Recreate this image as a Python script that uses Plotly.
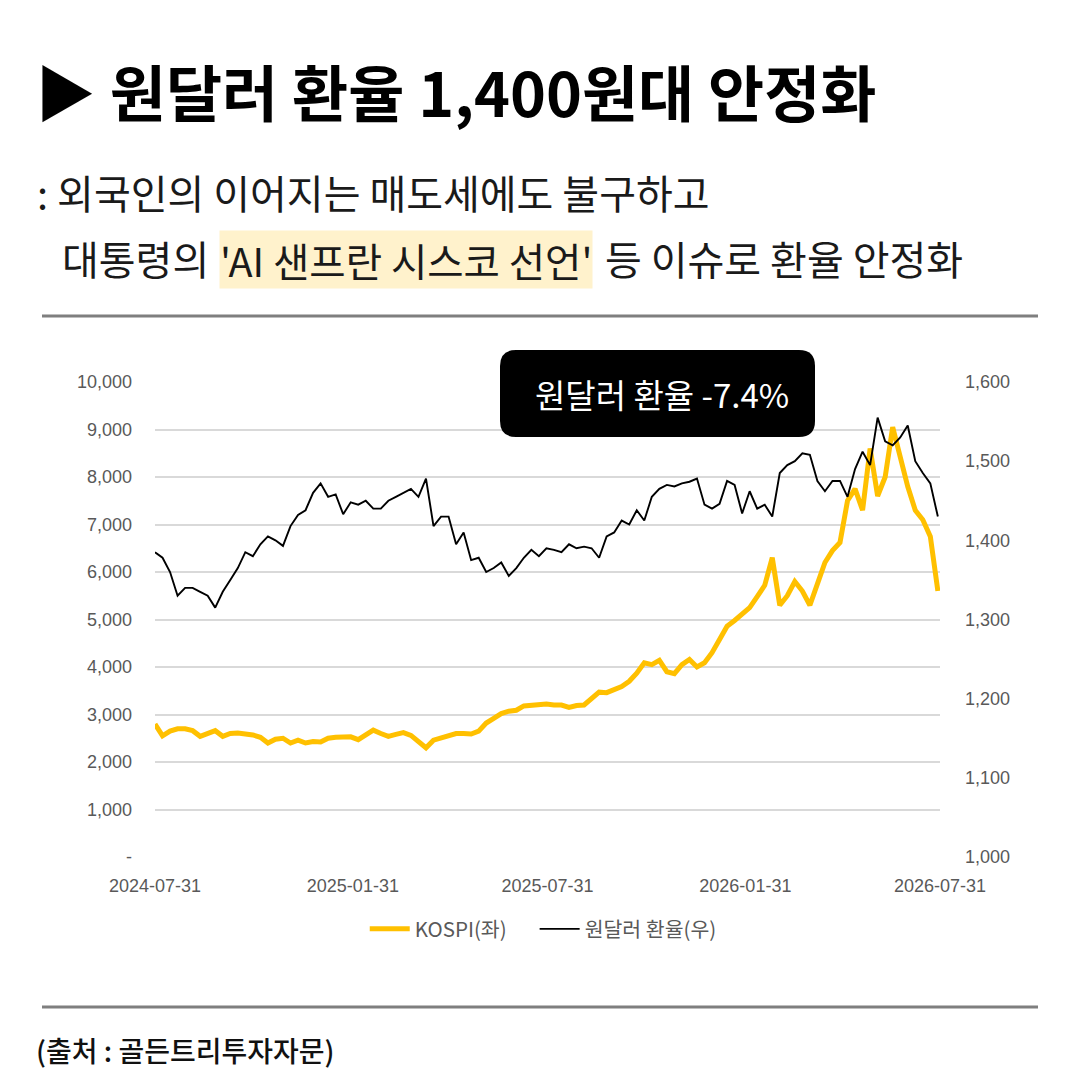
import pandas as pd
import plotly.graph_objects as go

# Dades (llegides del gràfic original, setmanals)
dates = pd.date_range("2024-07-31", periods=105, freq="7D")

kospi = [2800, 2550, 2650, 2700, 2700, 2660, 2540, 2600, 2660, 2540,
         2600, 2610, 2590, 2570, 2520, 2400, 2480, 2500, 2400, 2460,
         2400, 2430, 2420, 2500, 2520, 2530, 2530, 2470, 2560, 2670,
         2600, 2540, 2580, 2620, 2560, 2440, 2300, 2460, 2500, 2560,
         2600, 2600, 2590, 2650, 2820, 2920, 3020, 3070, 3090, 3180,
         3200, 3200, 3220, 3200, 3200, 3150, 3190, 3200, 3350, 3470,
         3460, 3520, 3590, 3700, 3870, 4090, 4050, 4140, 3900, 3860,
         4050, 4160, 4000, 4090, 4300, 4580, 4860, 4980, 5100, 5250,
         5480, 5720, 6300, 5300, 5500, 5800, 5600, 5300, 5750, 6200,
         6450, 6620, 7500, 7750, 7300, 8600, 7600, 8000, 9050, 8400,
         7800, 7300, 7100, 6750, 5600]

usdkrw = [1385, 1378, 1360, 1330, 1340, 1340, 1335, 1330, 1315, 1335,
          1350, 1365, 1385, 1380, 1395, 1405, 1400, 1393, 1418, 1432,
          1438, 1460, 1472, 1455, 1458, 1433, 1448, 1445, 1450, 1440,
          1440, 1450, 1455, 1460, 1465, 1455, 1478, 1418, 1430, 1430,
          1395, 1410, 1375, 1378, 1360, 1365, 1372, 1355, 1365, 1378,
          1388, 1380, 1390, 1388, 1385, 1395, 1390, 1392, 1390, 1378,
          1405, 1410, 1425, 1420, 1438, 1425, 1455, 1465, 1470, 1468,
          1472, 1474, 1478, 1445, 1440, 1446, 1475, 1470, 1434, 1462,
          1440, 1445, 1430, 1485, 1495, 1500, 1510, 1508, 1475, 1462,
          1475, 1475, 1455, 1490, 1512, 1495, 1555, 1525, 1520, 1530,
          1545, 1500, 1485, 1472, 1430]

x_ticks = ["2024-07-31", "2025-01-31", "2025-07-31", "2026-01-31", "2026-07-31"]
left_ticks = list(range(0, 10001, 1000))
left_labels = ["-"] + [f"{v:,}" for v in left_ticks[1:]]
right_ticks = list(range(1000, 1601, 100))
right_labels = [f"{v:,}" for v in right_ticks]

W = 1080
def px(v):
    return v / W
def py(v):
    return 1 - v / W

KR = "Noto Sans CJK KR"
AX = "Liberation Sans, Arial, sans-serif"
GRAY = "#595959"
TXT = "#1a1a1a"
NB = "\u00a0"

fig = go.Figure()

fig.add_trace(go.Scatter(
    x=dates, y=kospi, mode="lines", name="KOSPI(좌)" + NB * 5,
    line=dict(color="#FFC000", width=5), yaxis="y"
))
fig.add_trace(go.Scatter(
    x=dates, y=usdkrw, mode="lines", name="원달러 환율(우)",
    line=dict(color="#000000", width=1.9), yaxis="y2"
))

fig.update_layout(
    width=W, height=W,
    margin=dict(l=0, r=0, t=0, b=0, autoexpand=False),
    paper_bgcolor="white", plot_bgcolor="white",
    font=dict(family=KR, color=GRAY),
    xaxis=dict(
        type="date", domain=[px(155), px(940)], automargin=False,
        range=["2024-07-31", "2026-07-31"],
        tickvals=x_ticks, ticktext=x_ticks,
        tickfont=dict(family=AX, size=18, color=GRAY),
        showgrid=False, showline=False, zeroline=False,
        ticklabelstandoff=16
    ),
    yaxis=dict(
        domain=[py(857), py(382)], range=[0, 10000], automargin=False,
        tickvals=left_ticks, ticktext=left_labels,
        tickfont=dict(family=AX, size=18, color=GRAY),
        gridcolor="#d9d9d9", gridwidth=1.5, zeroline=False,
        ticklabelstandoff=22
    ),
    yaxis2=dict(
        overlaying="y", side="right", range=[1000, 1600], automargin=False,
        tickvals=right_ticks, ticktext=right_labels,
        tickfont=dict(family=AX, size=18, color=GRAY),
        showgrid=False, zeroline=False,
        ticklabelstandoff=24
    ),
    legend=dict(
        orientation="h", x=0.503, xanchor="center", y=py(929), yanchor="middle",
        font=dict(family=KR, size=20.5, color=GRAY), itemwidth=40
    ),
)

# Títol i subtítol
fig.add_annotation(
    x=px(33), y=py(90), xref="paper", yref="paper", xanchor="left", yanchor="middle",
    text="<b>▶ 원달러 환율 1,400원대 안정화</b>", showarrow=False,
    font=dict(family=KR, size=61, color="#000000")
)
fig.add_annotation(
    x=px(35), y=py(192), xref="paper", yref="paper", xanchor="left", yanchor="middle",
    text=": 외국인의 이어지는 매도세에도 불구하고", showarrow=False,
    font=dict(family=KR, size=40, color=TXT)
)
fig.add_annotation(
    x=px(60), y=py(258), xref="paper", yref="paper", xanchor="left", yanchor="middle",
    text="대통령의", showarrow=False,
    font=dict(family=KR, size=40, color=TXT)
)
fig.add_annotation(
    x=px(219), y=py(259), xref="paper", yref="paper", xanchor="left", yanchor="middle",
    text="'AI 샌프란 시스코 선언'", showarrow=False, bgcolor="#FFF2CC", borderpad=0,
    font=dict(family=KR, size=39.5, color=TXT)
)
fig.add_annotation(
    x=px(603), y=py(258), xref="paper", yref="paper", xanchor="left", yanchor="middle",
    text="등 이슈로 환율 안정화", showarrow=False,
    font=dict(family=KR, size=40, color=TXT)
)

# Línies separadores
for yy in (316, 1007):
    fig.add_shape(type="line", xref="paper", yref="paper",
                  x0=px(42), x1=px(1038), y0=py(yy), y1=py(yy),
                  line=dict(color="#7f7f7f", width=3))

# Caixa negra arrodonida
x0, x1, y0, y1, r = px(500), px(815), py(437), py(350), px(16)
path = (f"M {x0+r},{y0} L {x1-r},{y0} Q {x1},{y0} {x1},{y0+r} "
        f"L {x1},{y1-r} Q {x1},{y1} {x1-r},{y1} L {x0+r},{y1} "
        f"Q {x0},{y1} {x0},{y1-r} L {x0},{y0+r} Q {x0},{y0} {x0+r},{y0} Z")
fig.add_shape(type="path", path=path, xref="paper", yref="paper",
              fillcolor="#000000", line=dict(width=0))
fig.add_annotation(
    x=px(662), y=py(394), xref="paper", yref="paper", xanchor="center", yanchor="middle",
    text="원달러 환율 -7.4%", showarrow=False,
    font=dict(family=KR, size=33, color="#ffffff")
)

# Font
fig.add_annotation(
    x=px(34), y=py(1050), xref="paper", yref="paper", xanchor="left", yanchor="middle",
    text="(출처 : 골든트리투자자문)", showarrow=False,
    font=dict(family=KR, size=28, color="#111111", weight=500)
)

# Treiem el marge del body perquè la figura quedi a (0, 0)
fig.write_html("out.html", config={"displayModeBar": False},
               post_script="document.body.style.margin='0';")
